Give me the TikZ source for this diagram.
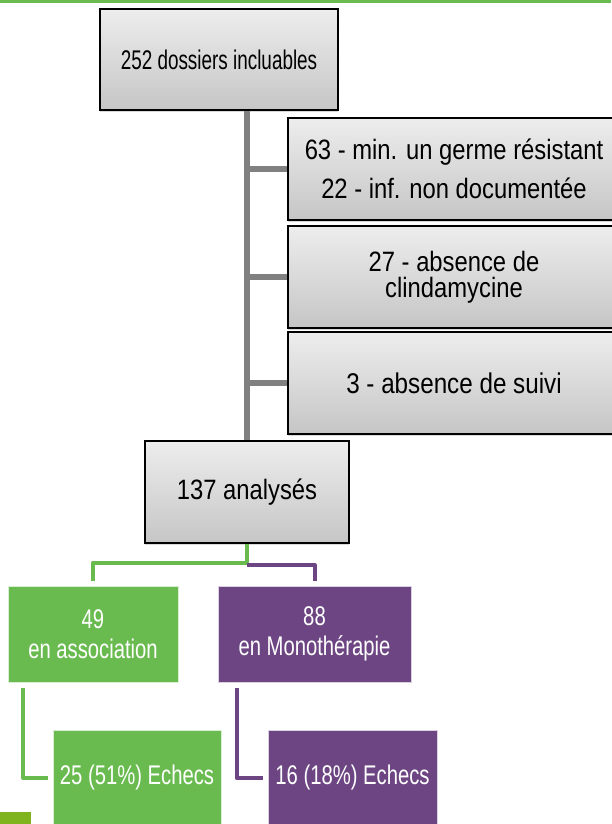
\documentclass[tikz,border=0pt]{standalone}
\usepackage{fontspec}
\setmainfont{Liberation Sans}
\newfontfamily\narrowfont{Liberation Sans}[FakeStretch=0.85]
\newfontfamily\slimfont{Liberation Sans}[FakeStretch=0.75]
\newfontfamily\inclfont{Liberation Sans}[FakeStretch=0.7]
\usetikzlibrary{shadows,positioning}
\definecolor{pptgreen}{HTML}{69BB4F}
\definecolor{pptpurple}{HTML}{6C4582}
\definecolor{pptlime}{HTML}{80B41E}
\definecolor{trunkgray}{HTML}{808080}

\begin{document}
\begin{tikzpicture}[x=1pt,y=-1pt,
        graybox/.style={draw=black, line width=1.3pt, top color=gray!14, bottom color=gray!45,
        drop shadow={opacity=0.3, shadow xshift=0pt, shadow yshift=-2pt},
        align=center, inner sep=0pt, font=\narrowfont\fontsize{28}{30}\selectfont},
        greenbox/.style={draw=white!75!pptgreen, line width=0.8pt, fill=pptgreen, text=white,
        align=center, inner sep=0pt, font=\slimfont\fontsize{27}{30}\selectfont},
        purplebox/.style={greenbox, draw=white!75!pptpurple, fill=pptpurple},
        trunk/.style={trunkgray, line width=6pt},
        gline/.style={pptgreen, line width=4pt, line join=round},
        pline/.style={pptpurple, line width=4pt, line join=round}]
        \useasboundingbox (0,0) rectangle (611,824);
        \fill[pptgreen] (0,0) rectangle (611,3);
        \fill[pptlime] (0,812) rectangle (31,824);
        % main column
        \node[graybox, minimum width=238pt, minimum height=101pt, font=\inclfont\fontsize{27}{30}\selectfont] (incl) at (219,59.5) {252 dossiers incluables};
        \node[graybox, minimum width=204pt, minimum height=102pt] (ana) at (247,492) {137 analysés};
        % exclusions
        \node[graybox, minimum width=332pt, minimum height=102pt] (excl1) at (454,169) {63 - min. un germe résistant\\[9pt]22 - inf. non documentée};
        \node[graybox, minimum width=332pt, minimum height=102pt] (excl2) at (454,277) {27 - absence de\\[-4pt]clindamycine};
        \node[graybox, minimum width=332pt, minimum height=102pt, font=\narrowfont\fontsize{28.5}{30}\selectfont] (excl3) at (454,383) {3 - absence de suivi};
        \draw[trunk] (incl.south -| ana.north) -- (ana.north);
        \foreach \e in {excl1,excl2,excl3}
            \draw[trunk] (ana.north |- \e.west) -- (\e.west);
        % treatment groups
        \node[greenbox, minimum width=170pt, minimum height=96pt] (asso) at (93,634) {49\\en association};
        \node[purplebox, minimum width=193pt, minimum height=96pt] (mono) at (314.5,634) {88\\en Monothérapie};
        \node[greenbox, minimum width=168pt, minimum height=96pt] (echA) at (137,778) {25 (51\%) Echecs};
        \node[purplebox, minimum width=169pt, minimum height=96pt] (echM) at (352.5,778) {16 (18\%) Echecs};
        \draw[gline] (ana.south) -- ++(0,19) -| ([yshift=5pt]asso.north);
        \draw[pline] ([yshift=-21pt]ana.south) -| ([yshift=5pt]mono.north);
        \draw[gline] ([xshift=-70pt,yshift=-6pt]asso.south) |- ([xshift=-5pt]echA.west);
        \draw[pline] ([xshift=-78pt,yshift=-6pt]mono.south) |- ([xshift=-5pt]echM.west);
    \end{tikzpicture}
\end{document}
